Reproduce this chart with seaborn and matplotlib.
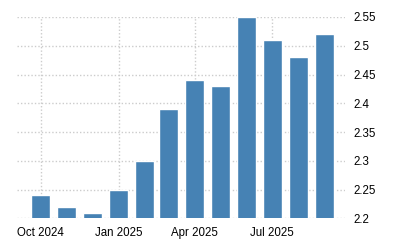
import matplotlib
matplotlib.use("Agg")
import matplotlib.pyplot as plt
import matplotlib.dates as mdates
import seaborn as sns
import pandas as pd
import datetime as dt

months = ["2024-10-01", "2024-11-01", "2024-12-01", "2025-01-01", "2025-02-01", "2025-03-01",
          "2025-04-01", "2025-05-01", "2025-06-01", "2025-07-01", "2025-08-01", "2025-09-01"]
values = [2.24, 2.22, 2.21, 2.25, 2.30, 2.39, 2.44, 2.43, 2.55, 2.51, 2.48, 2.52]
tick_dates = ["2024-10-01", "2025-01-01", "2025-04-01", "2025-07-01"]
tick_labels = ["Oct 2024", "Jan 2025", "Apr 2025", "Jul 2025"]
y_ticks = [2.2, 2.25, 2.3, 2.35, 2.4, 2.45, 2.5, 2.55]
y_labels = ["2.2", "2.25", "2.3", "2.35", "2.4", "2.45", "2.5", "2.55"]

sns.set_style("white")
plt.rcParams["font.family"] = ["Liberation Sans", "DejaVu Sans"]

df = pd.DataFrame({"x": mdates.date2num(pd.to_datetime(months)), "v": values})

fig = plt.figure(figsize=(4, 2.5), dpi=100)
W, H = 400, 250
left, right, top, bottom = 17, 345, 17, 218.3
ax = fig.add_axes([left / W, 1 - bottom / H, (right - left) / W, (bottom - top) / H])

sns.barplot(data=df, x="x", y="v", native_scale=True, color="#4682b4",
            saturation=1, width=0.8, ax=ax, zorder=3)

x0 = mdates.date2num(dt.datetime(2024, 10, 1))
px_per_day = 0.848
ax.set_xlim(x0 + (left - 40.5) / px_per_day, x0 + (right - 40.5) / px_per_day)
ax.set_ylim(2.2, 2.55)

ax.set_xticks(mdates.date2num(pd.to_datetime(tick_dates)))
ax.set_xticklabels(tick_labels)
ax.set_yticks(y_ticks)
ax.set_yticklabels(y_labels)
ax.yaxis.tick_right()
ax.tick_params(axis="y", length=0, pad=6, labelsize=8.3, labelcolor="#000000")
ax.tick_params(axis="x", length=4, width=1, color="#cccccc", pad=2, labelsize=8.3, labelcolor="#000000")
ax.grid(True, axis="both", color="#cccccc", linestyle=(0, (1, 1.5)), linewidth=1, zorder=0)
ax.set_axisbelow(True)
for s in ax.spines.values():
    s.set_visible(False)
ax.set_xlabel("")
ax.set_ylabel("")

fig.savefig("out.png", dpi=100, facecolor="white")
